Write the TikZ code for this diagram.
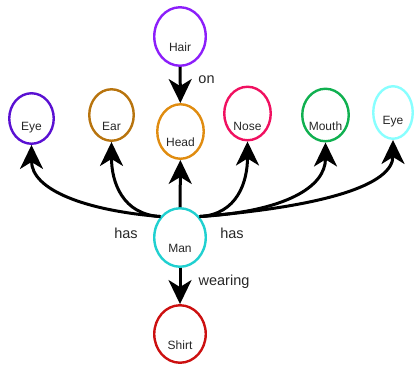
\documentclass[tikz,border=0pt]{standalone}
\usepackage{fontspec}
\setmainfont{Liberation Sans}
\usetikzlibrary{shapes.geometric,arrows.meta}
\definecolor{cHair}{RGB}{140,30,250}
\definecolor{cEyeL}{RGB}{90,16,210}
\definecolor{cEar}{RGB}{184,116,14}
\definecolor{cHead}{RGB}{224,140,16}
\definecolor{cNose}{RGB}{240,16,96}
\definecolor{cMouth}{RGB}{16,176,80}
\definecolor{cEyeR}{RGB}{136,255,255}
\definecolor{cMan}{RGB}{32,208,208}
\definecolor{cShirt}{RGB}{204,16,16}
\begin{document}
\begin{tikzpicture}[x=1pt,y=-1pt,
  ent/.style={ellipse, draw=#1, line width=2.4pt, inner sep=0pt},
  nl/.style={font=\fontsize{12}{14}\selectfont, text=black!85, yshift=-11pt},
  el/.style={font=\fontsize{14.5}{17}\selectfont, text=black!85, inner sep=0pt},
  conn/.style={line width=3pt, -{Stealth[length=24pt,width=23pt,inset=7pt]}}]
\useasboundingbox (0,0) rectangle (415,365);
\node[ent=cHair, minimum width=51.5pt, minimum height=58.5pt, label={[nl]center:Hair}] (hair) at (180,36.5) {};
\node[ent=cHead, minimum width=46.5pt, minimum height=54.5pt, label={[nl]center:Head}] (head) at (180.5,131.5) {};
\node[ent=cEyeL, minimum width=44.5pt, minimum height=50.5pt, label={[nl,yshift=1.5pt]center:Eye}] (eyeL) at (31.5,118.5) {};
\node[ent=cEar, minimum width=44.5pt, minimum height=51.5pt, label={[nl]center:Ear}] (ear) at (111.5,115) {};
\node[ent=cNose, minimum width=46.5pt, minimum height=53.5pt, label={[nl,yshift=-1.5pt]center:Nose}] (nose) at (247.5,113.5) {};
\node[ent=cMouth, minimum width=46.5pt, minimum height=52.5pt, label={[nl]center:Mouth}] (mouth) at (325.5,115) {};
\node[ent=cEyeR, minimum width=39.5pt, minimum height=52.5pt, label={[nl,yshift=1.5pt]center:Eye}] (eyeR) at (393,112.5) {};
\node[ent=cMan, minimum width=51.5pt, minimum height=58.5pt, label={[nl]center:Man}] (man) at (180,237.5) {};
\node[ent=cShirt, minimum width=51.5pt, minimum height=57.5pt, label={[nl]center:Shirt}] (shirt) at (180,334) {};
\draw[conn] (hair) -- (head);
\draw[conn] (man) -- (head);
\draw[conn] (man) -- (shirt);
\draw[conn] (man.133) .. controls +(-75,-6) and +(0,45) .. (eyeL.south);
\draw[conn] (man.133) .. controls +(-38,-2) and +(0,40) .. (ear.south);
\draw[conn] (man.47) .. controls +(38,-2) and +(0,40) .. (nose.south);
\draw[conn] (man.47) .. controls +(85,-5) and +(0,45) .. (mouth.south);
\draw[conn] (man.47) .. controls +(125,-10) and +(0,45) .. (eyeR.south);
\node[el] (lon) at (206.5,79.5) {on};
\node[el] (lhasL) at (126,233.5) {has};
\node[el] (lhasR) at (232,233.5) {has};
\node[el] (lwear) at (224,282) {wearing};
\end{tikzpicture}
\end{document}
